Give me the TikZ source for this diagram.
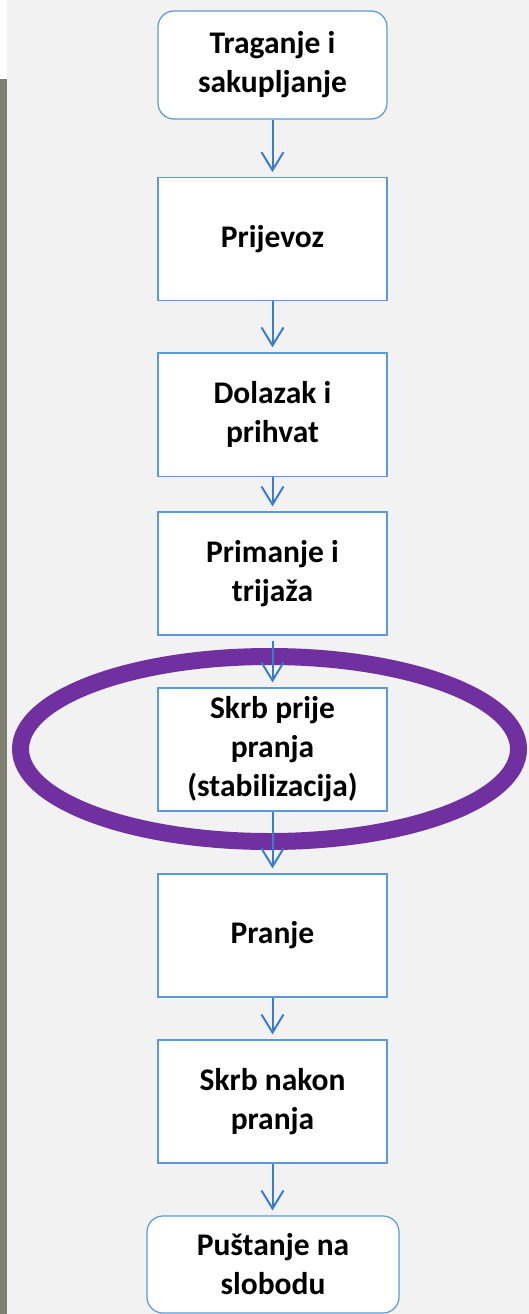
\documentclass[tikz,border=0pt]{standalone}
\usepackage{fontspec}
\setmainfont{Carlito}
\usetikzlibrary{arrows.meta}
\definecolor{bg}{HTML}{F2F2F2}
\definecolor{stripgrey}{HTML}{7F7F72}
\definecolor{boxblue}{HTML}{5B9BD5}
\definecolor{arrowblue}{HTML}{3A7FC6}
\definecolor{ringpurple}{HTML}{7030A0}
\tikzset{
  proc/.style={draw=boxblue, line width=1.2pt, fill=white, minimum width=229pt,
    align=center, inner sep=0pt, font=\bfseries\fontsize{31.5}{39}\selectfont},
  term/.style={proc, rounded corners=16pt},
  arr/.style={draw=arrowblue, line width=2pt, -{Straight Barb[length=18pt,width=22pt]}, shorten >=5pt},
  ring/.style={draw=ringpurple, line width=17pt}
}
\begin{document}
\begin{tikzpicture}[x=1pt,y=-1pt]
\useasboundingbox (0,0) rectangle (529,1314);
\fill[bg] (0,0) rectangle (529,1314);
\fill[white] (0,0) rectangle (7,79);
\fill[stripgrey] (0,79) rectangle (7,1314);

\node[term, minimum height=108pt] (b1) at (272.5,65) {Traganje i\\sakupljanje};
\node[proc, minimum height=123pt] (b2) at (272.5,239.2) {Prijevoz};
\node[proc, minimum height=123.7pt] (b3) at (272.5,414.8) {Dolazak i\\prihvat};
\node[proc, minimum height=123pt] (b4) at (272.5,573.5) {Primanje i\\trija\v{z}a};
\node[proc, minimum height=123pt] (b5) at (272.5,749.5) {Skrb prije\\pranja\\(stabilizacija)};
\node[proc, minimum height=123pt] (b6) at (272.5,935.5) {Pranje};
\node[proc, minimum height=123pt] (b7) at (272.5,1101.5) {Skrb nakon\\pranja};
\node[term, minimum width=252pt, minimum height=97pt] (b8) at (273,1264.5) {Pu\v{s}tanje na\\slobodu};

\draw[ring] (269.5,749) ellipse [x radius=249, y radius=92.5];

\draw[arr] (b1) -- (b2);
\draw[arr] (b2) -- (b3);
\draw[arr] (b3) -- (b4);
\draw[arr, shorten <=5pt] (b4) -- (b5);
\draw[arr] (b5) -- (b6);
\draw[arr] (b6) -- (b7);
\draw[arr] (b7.south) -- (b7.south |- b8.north);
\end{tikzpicture}
\end{document}
